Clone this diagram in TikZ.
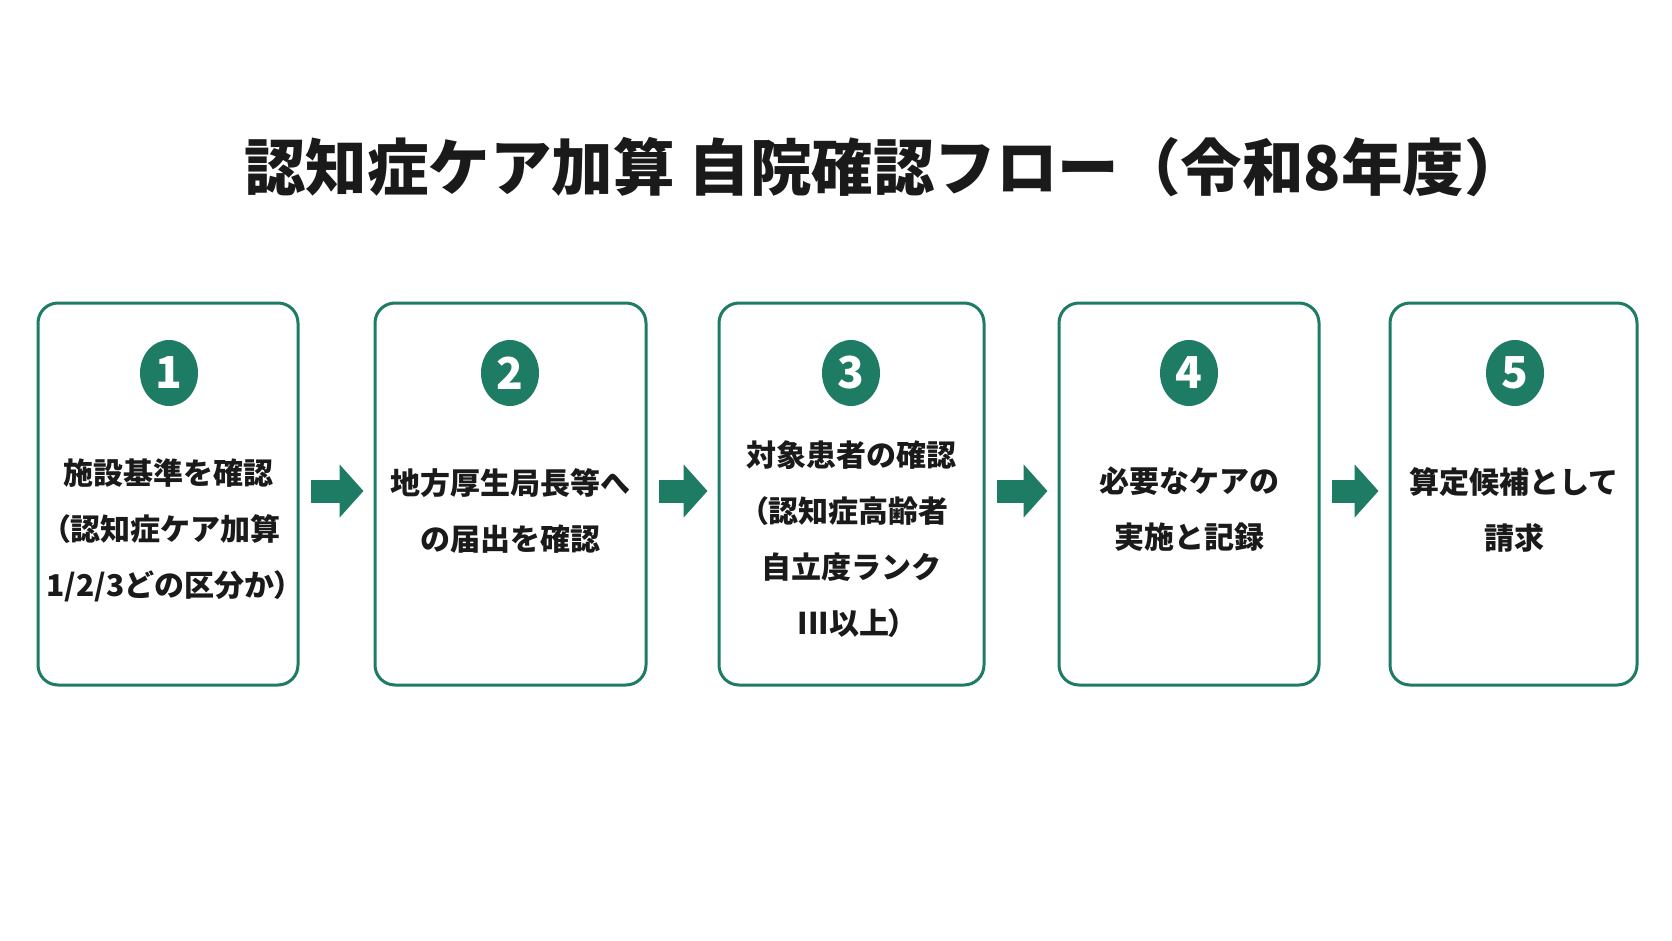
\documentclass[tikz,border=0pt]{standalone}
\usepackage{fontspec}
\setmainfont{Noto Sans CJK JP}
\newfontfamily\paltfont{Noto Sans CJK JP}[RawFeature=+palt]
\newcommand{\lp}{{\paltfont （}}
\newcommand{\rp}{{\paltfont ）}}
\usetikzlibrary{arrows.meta,shapes.geometric}
\definecolor{tealg}{HTML}{1E7B64}
\definecolor{ink}{HTML}{1A1A1A}
\begin{document}
\begin{tikzpicture}[x=1pt,y=-1pt,
  card/.style={draw=tealg, line width=3pt, rounded corners=20pt, fill=white, minimum height=382pt, inner sep=0pt},
  badge/.style={ellipse, fill=tealg, minimum width=58pt, minimum height=66pt, inner sep=0pt, text=white, font=\fontsize{44}{44}\selectfont\bfseries},
  body/.style={align=center, text=ink, inner sep=0pt, font=\fontsize{30}{56}\selectfont\bfseries},
  flow/.style={draw=tealg, line width=23pt, -{Triangle[width=52pt,length=24pt]}, shorten <=11pt, shorten >=10pt}
]
\fill[white] (0,0) rectangle (1672,941);
\useasboundingbox (0,0) rectangle (1672,941);

\node[text=ink, inner sep=0pt, font=\fontsize{61.5}{62}\selectfont\bfseries] (title) at (885,167) {認知症ケア加算 自院確認フロー（令和8年度）};

\node[card, minimum width=260pt] (b1) at (168,494) {};
\node[card, minimum width=271pt] (b2) at (510.5,494) {};
\node[card, minimum width=265pt] (b3) at (851.5,494) {};
\node[card, minimum width=260pt] (b4) at (1189,494) {};
\node[card, minimum width=247pt] (b5) at (1513.5,494) {};

\node[badge] (n1) at (169,373) {1};
\node[badge] (n2) at (510,373) {2};
\node[badge] (n3) at (851,373) {3};
\node[badge] (n4) at (1189,373) {4};
\node[badge] (n5) at (1515,373) {5};

\node[body] (t1) at (168,530) {施設基準を確認\\\lp 認知症ケア加算\\1/2/3どの区分か\rp};
\node[body] (t2) at (510,511) {地方厚生局長等へ\\の届出を確認};
\node[body] (t3) at (851,539) {対象患者の確認\\\lp 認知症高齢者\\自立度ランク\\III以上\rp};
\node[body] (t4) at (1189,509) {必要なケアの\\実施と記録};
\node[body] (t5) at (1514,510) {算定候補として\\請求};

\draw[flow] ([yshift=3pt]b1.east) -- ([yshift=3pt]b2.west);
\draw[flow] ([yshift=3pt]b2.east) -- ([yshift=3pt]b3.west);
\draw[flow] ([yshift=3pt]b3.east) -- ([yshift=3pt]b4.west);
\draw[flow] ([yshift=3pt]b4.east) -- ([yshift=3pt]b5.west);
\end{tikzpicture}
\end{document}
